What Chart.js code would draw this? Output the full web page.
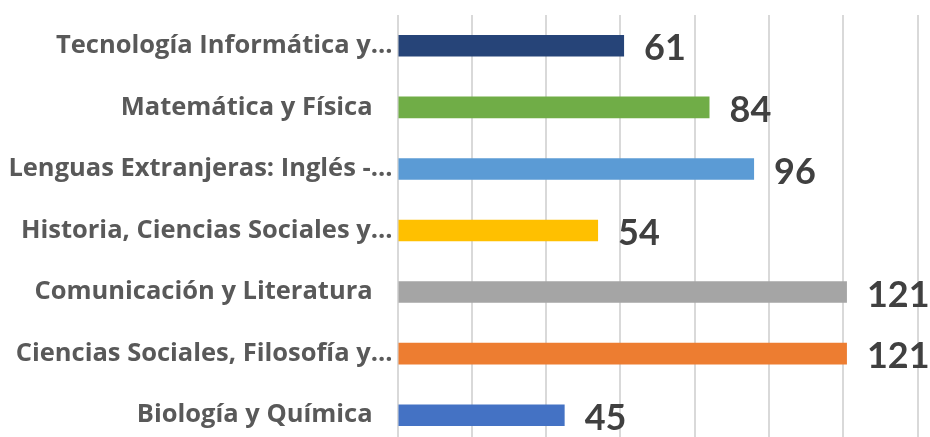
<!DOCTYPE html>
<html>
<head>
<meta charset="utf-8">
<script src="https://cdn.jsdelivr.net/npm/chart.js@4/dist/chart.umd.min.js"></script>
<style>
  html,body{margin:0;padding:0;background:#fff;overflow:hidden;}
  #idGrafica{display:block;}
</style>
</head>
<body>
<canvas id="idGrafica" width="930" height="446"></canvas>
<script>
// datos
var materias=['Tecnología Informática y...','Matemática y Física\u00a0\u00a0\u00a0','Lenguas Extranjeras: Inglés -...','Historia, Ciencias Sociales y...','Comunicación y Literatura\u00a0\u00a0\u00a0','Ciencias Sociales, Filosofía y...','Biología y Química\u00a0\u00a0\u00a0'];
var docentes=[61,84,96,54,121,121,45];
var colores=['#264478','#70ad47','#5b9bd5','#ffc000','#a5a5a5','#ed7d31','#4472c4'];
var ejeMax=140;
var ejePaso=20;

// etiquetas de valor al final de cada barra
var etiquetasValor={
    id:'etiquetasValor',
    afterDatasetsDraw:function(chart){
        var ctx=chart.ctx;
        var meta=chart.getDatasetMeta(0);
        ctx.save();
        ctx.font='bold 36px Lato';
        ctx.fillStyle='#404040';
        ctx.textAlign='left';
        ctx.textBaseline='middle';
        meta.data.forEach(function(barra,i){
            ctx.fillText(docentes[i],barra.x+20,barra.y+3);
        });
        ctx.restore();
    }
};

var ctx=document.getElementById('idGrafica').getContext('2d');
var mychart=new Chart(ctx,{
    type:'bar',
    data:{
        labels:materias,
        datasets:[{
            data:docentes,
            backgroundColor:colores,
            categoryPercentage:1,
            barPercentage:0.35
        }]
    },
    options:{
        indexAxis:'y',
        responsive:false,
        animation:false,
        layout:{padding:{top:15,right:12.5,left:0,bottom:0}},
        plugins:{legend:{display:false},tooltip:{enabled:false}},
        scales:{
            x:{
                min:0,max:ejeMax,
                ticks:{display:false,stepSize:ejePaso},
                grid:{color:'#d9d9d9',lineWidth:2,drawTicks:false},
                border:{display:false},
                afterFit:function(s){s.height=0;s.paddingLeft=0;s.paddingRight=0;}
            },
            y:{
                grid:{display:false,drawTicks:false},
                border:{display:false},
                ticks:{
                    color:'#595959',
                    font:{family:'Open Sans',size:25.5,weight:'bold'},
                    padding:5,
                    autoSkip:false
                },
                afterFit:function(s){s.width=397.5;s.paddingTop=0;s.paddingBottom=0;}
            }
        }
    },
    plugins:[etiquetasValor]
});
</script>
</body>
</html>
